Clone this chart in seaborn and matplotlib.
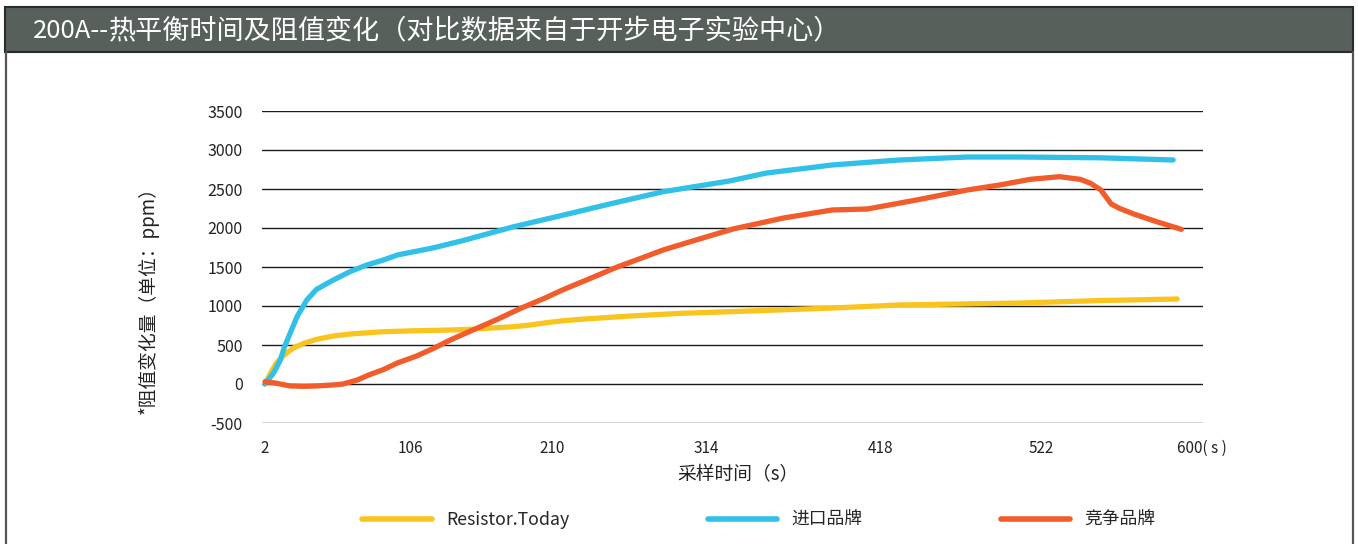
import matplotlib
matplotlib.use('Agg')
from matplotlib import pyplot as plt
from matplotlib.lines import Line2D
from matplotlib.patches import Rectangle

import numpy as np
import pandas as pd
import seaborn as sns

sns.set_style('white')
plt.rcParams['font.family'] = ['Noto Sans CJK SC', 'DejaVu Sans']
plt.rcParams['axes.unicode_minus'] = False

yellow_t = [2, 6, 10, 15, 22, 30, 39, 51, 63, 87, 111, 135, 150, 182, 194, 206, 218, 229, 263, 297, 328,
            389, 430, 508, 551, 588]
yellow_v = [0, 137, 265, 359, 458, 522, 573, 615, 641, 671, 683, 692, 701, 735, 756, 786, 812, 829, 872, 906, 927,
            974, 1013, 1038, 1070, 1090]

blue_t = [2, 8, 13, 16, 20, 25, 32, 39, 51, 63, 75, 87, 97, 123, 145, 182, 218, 251, 285, 328, 350, 389, 430,
          474, 508, 551, 586]
blue_v = [0, 137, 308, 478, 650, 863, 1077, 1214, 1333, 1440, 1526, 1590, 1654, 1745, 1840, 2017, 2167, 2317,
          2465, 2603, 2705, 2808, 2872, 2910, 2910, 2900, 2872]

orange_t = [2, 10, 20, 30, 39, 51, 58, 68, 77, 87, 97, 111, 123, 135, 152, 170, 187, 204, 217, 236, 254, 267,
            285, 307, 330, 360, 389, 410, 441, 474, 495, 515, 531, 541, 546, 551, 554, 556, 560, 567, 578, 590]
orange_v = [30, 10, -25, -30, -25, -12, 0, 50, 120, 185, 270, 360, 455, 560, 692, 829, 970, 1095, 1205, 1355,
            1500, 1590, 1718, 1845, 1987, 2128, 2231, 2244, 2359, 2487, 2551, 2624, 2658, 2624, 2573, 2487, 2380,
            2308, 2252, 2179, 2081, 1983]

series_names = ['Resistor.Today', '进口品牌', '竞争品牌']
colors = ['#fac41e', '#30c0e8', '#f25c2a']

tick_secs = [2, 106, 210, 314, 418, 522, 600]
tick_labels = ['2', '106', '210', '314', '418', '522', '600( s )']
y_ticks = [-500, 0, 500, 1000, 1500, 2000, 2500, 3000, 3500]

title_head = '200A--'
title_rest = '热平衡时间及阻值变化（对比数据来自于开步电子实验中心）'

df = pd.concat([
    pd.DataFrame({'t': yellow_t, 'v': yellow_v, 'brand': series_names[0]}),
    pd.DataFrame({'t': blue_t, 'v': blue_v, 'brand': series_names[1]}),
    pd.DataFrame({'t': orange_t, 'v': orange_v, 'brand': series_names[2]}),
])

W, H = 1358, 544
fig = plt.figure(figsize=(W / 100, H / 100), dpi=100)

# title bar + panel frame
fig.patches.append(Rectangle((5 / W, 1 - 52 / H), (1353 - 5) / W, 45 / H, transform=fig.transFigure,
                             facecolor='#58605c', edgecolor='#2b2b2b', lw=1.5))
for xp in (5.5, 1352.5):
    fig.add_artist(Line2D([xp / W, xp / W], [0, 1 - 52 / H], transform=fig.transFigure,
                          color='#555555', lw=1.6))
base_y = 1 - 38 / H
t1 = fig.text(33 / W, base_y, title_head, color='white', fontsize=18.5, va='baseline', ha='left')
fig.canvas.draw()
bb = t1.get_window_extent()
fig.text(bb.x1 / W, base_y, title_rest, color='white', fontsize=19.5, va='baseline', ha='left')

ax = fig.add_axes([262 / W, 1 - 423 / H, (1203 - 262) / W, 312 / H])

# the category axis is not evenly spaced, so map seconds onto label positions
tick_px = [265, 410, 552, 706, 881, 1041, 1202]
anchor_s = [-10] + tick_secs + [620]
anchor_p = [265 - 12 / 0.7172] + tick_px + [1202 + 20 / 0.4845]
fwd = lambda x: np.interp(x, anchor_s, anchor_p)
inv = lambda p: np.interp(p, anchor_p, anchor_s)
ax.set_xscale('function', functions=(fwd, inv))

sns.lineplot(data=df, x='t', y='v', hue='brand', palette=colors, linewidth=3.8,
             legend=False, ax=ax, sort=False, estimator=None, solid_joinstyle='round')

ax.set_xlim(float(inv(262)), float(inv(1203)))
ax.set_ylim(-500, 3500)
ax.set_xticks(tick_secs)
ax.set_xticklabels(tick_labels)
ax.set_yticks(y_ticks)
ax.yaxis.grid(True, color='#1a1a1a', lw=1)
ax.xaxis.grid(False)
ax.set_axisbelow(True)
sns.despine(ax=ax, left=True, bottom=True)
ax.tick_params(axis='y', length=0, pad=14, labelsize=11.5, labelcolor='#222222')
ax.tick_params(axis='x', length=0, pad=12, labelsize=11, labelcolor='#222222')
ax.set_xlabel('')
ax.set_ylabel('')

fig.text(738 / W, 1 - 475 / H, '采样时间（s）', ha='center', va='center', fontsize=13.5, color='#222222')
fig.text(148 / W, 1 - 296 / H, '*阻值变化量（单位：ppm）', ha='center', va='center', rotation=90,
         fontsize=13.5, color='#222222')

handles = [Line2D([], [], color=c, lw=4) for c in colors]
fig.legend(handles, series_names, loc='center', bbox_to_anchor=(759 / W, 1 - 520 / H), ncol=3,
           frameon=False, handlelength=3.9, handletextpad=0.8, columnspacing=7.8, fontsize=12.8)

fig.savefig('out.png', dpi=100)
